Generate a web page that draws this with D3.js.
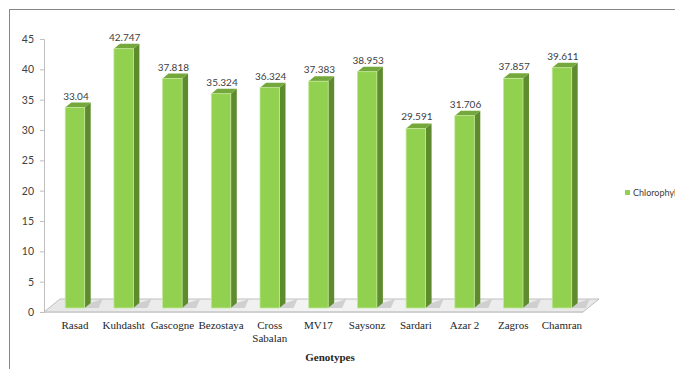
<!DOCTYPE html>
<html>
<head>
<meta charset="utf-8">
<script src="https://cdn.jsdelivr.net/npm/d3@7"></script>
<style>
  body { margin: 0; background: #fff; }
  svg { display: block; }
</style>
</head>
<body>
<div id="chart"></div>
<script>
// data
var genotypes = ["Rasad", "Kuhdasht", "Gascogne", "Bezostaya", "Cross Sabalan", "MV17",
                 "Saysonz", "Sardari", "Azar 2", "Zagros", "Chamran"];
var chlorophyll = [33.04, 42.747, 37.818, 35.324, 36.324, 37.383, 38.953, 29.591, 31.706, 37.857, 39.611];
var valueLabels = ["33.04", "42.747", "37.818", "35.324", "36.324", "37.383", "38.953", "29.591", "31.706", "37.857", "39.611"];
var yTicks = [0, 5, 10, 15, 20, 25, 30, 35, 40, 45];
var seriesName = "Chlorophyll";

var W = 675, H = 369;
var svg = d3.select("#chart").append("svg")
    .attr("width", W)
    .attr("height", H);

var defs = svg.append("defs");
var fg = defs.append("linearGradient").attr("id", "floorGrad")
    .attr("x1", "0").attr("y1", "0").attr("x2", "1").attr("y2", "0");
fg.append("stop").attr("offset", "0").attr("stop-color", "#e6e6e6");
fg.append("stop").attr("offset", "0.5").attr("stop-color", "#f4f4f4");
fg.append("stop").attr("offset", "1").attr("stop-color", "#e8e8e8");

// outer frame
svg.append("rect")
    .attr("x", 9.5).attr("y", 9.5)
    .attr("width", 800).attr("height", 500)
    .attr("fill", "none")
    .attr("stroke", "#868686");

// scales
var x = d3.scaleBand()
    .domain(genotypes)
    .range([50.6, 586.3])
    .paddingInner(0.6)
    .paddingOuter(0.3);

var y = d3.scaleLinear()
    .domain([0, 45])
    .range([312, 39]);

// depth of the 3d effect
var dx = 6, dy = -5, lift = 4;
var fdx = 16, fdy = -13;

// floor
var fl = 44, fr = 583, fy = y(0);
svg.append("polygon")
    .attr("points", [[fl, fy], [fr, fy], [fr + fdx, fy + fdy], [fl + fdx, fy + fdy]].join(" "))
    .attr("fill", "url(#floorGrad)")
    .attr("stroke", "#bfbfbf")
    .attr("stroke-width", 1);
svg.append("rect")
    .attr("x", fl).attr("y", fy - 1)
    .attr("width", fr - fl).attr("height", 2)
    .attr("fill", "#d0d0d0");

// bar shadows on the floor
svg.selectAll("polygon.shadow")
    .data(genotypes)
    .enter().append("polygon")
    .attr("class", "shadow")
    .attr("points", function (d) {
        var x0 = x(d) + x.bandwidth(), b = y(0) - lift;
        return [[x0, b], [x0 + 14, b], [x0 + 18, b - 9], [x0 + dx, b + dy]].join(" ");
    })
    .attr("fill", "#c8c8c8")
    .attr("opacity", 0.8);

// y axis
var yAxis = svg.append("g")
    .attr("transform", "translate(44,0)")
    .call(d3.axisLeft(y).tickValues(yTicks).tickSize(4).tickPadding(6));
yAxis.select(".domain").attr("stroke", "#bfbfbf");
yAxis.selectAll(".tick line").attr("stroke", "#bfbfbf");
yAxis.selectAll(".tick text")
    .attr("fill", "#404040")
    .style("font-family", "Lato, 'Open Sans', sans-serif")
    .style("font-size", "10.5px");

// bars
var bars = svg.selectAll("g.bar")
    .data(genotypes.map(function (g, i) { return { group: g, value: chlorophyll[i], label: valueLabels[i] }; }))
    .enter().append("g")
    .attr("class", "bar");

bars.append("polygon")
    .attr("points", function (d) {
        var x1 = x(d.group) + x.bandwidth(), t = y(d.value) - lift, b = y(0) - lift;
        return [[x1, t], [x1 + dx, t + dy], [x1 + dx, b + dy], [x1, b]].join(" ");
    })
    .attr("fill", "#5e8b2e");

bars.append("polygon")
    .attr("points", function (d) {
        var x0 = x(d.group), x1 = x0 + x.bandwidth(), t = y(d.value) - lift;
        return [[x0, t], [x1, t], [x1 + dx, t + dy], [x0 + dx, t + dy]].join(" ");
    })
    .attr("fill", "#74a83c");

bars.append("rect")
    .attr("x", function (d) { return x(d.group); })
    .attr("y", function (d) { return y(d.value) - lift; })
    .attr("width", x.bandwidth())
    .attr("height", function (d) { return y(0) - y(d.value); })
    .attr("fill", "#92d050")
    .attr("stroke", "#c3e89a")
    .attr("stroke-width", 0.8);

bars.append("text")
    .attr("x", function (d) { return x(d.group) + x.bandwidth() / 2 + 1; })
    .attr("y", function (d) { return y(d.value) - lift + dy - 3; })
    .attr("text-anchor", "middle")
    .attr("fill", "#404040")
    .style("font-family", "Lato, 'Open Sans', sans-serif")
    .style("font-size", "10px")
    .text(function (d) { return d.label; });

// category labels
var cat = svg.selectAll("text.cat")
    .data(genotypes)
    .enter().append("text")
    .attr("class", "cat")
    .attr("x", function (d) { return x(d) + x.bandwidth() / 2; })
    .attr("y", 329)
    .attr("text-anchor", "middle")
    .attr("fill", "#262626")
    .style("font-family", "'Liberation Serif', serif")
    .style("font-size", "11px");
cat.each(function (d) {
    var words = d === "Cross Sabalan" ? ["Cross", "Sabalan"] : [d];
    var t = d3.select(this);
    words.forEach(function (w, i) {
        t.append("tspan")
            .attr("x", x(d) + x.bandwidth() / 2)
            .attr("dy", i === 0 ? 0 : 13)
            .text(w);
    });
});

// axis title
svg.append("text")
    .attr("x", 330)
    .attr("y", 361)
    .attr("text-anchor", "middle")
    .attr("fill", "#262626")
    .style("font-family", "'Liberation Serif', serif")
    .style("font-size", "11px")
    .style("font-weight", "bold")
    .text("Genotypes");

// legend (cut by the right edge, as in the source picture)
svg.append("rect")
    .attr("x", 625).attr("y", 190)
    .attr("width", 5).attr("height", 5)
    .attr("fill", "#92d050");
svg.append("text")
    .attr("x", 633)
    .attr("y", 196)
    .attr("fill", "#404040")
    .style("font-family", "Lato, 'Open Sans', sans-serif")
    .style("font-size", "9px")
    .text(seriesName);
</script>
</body>
</html>
